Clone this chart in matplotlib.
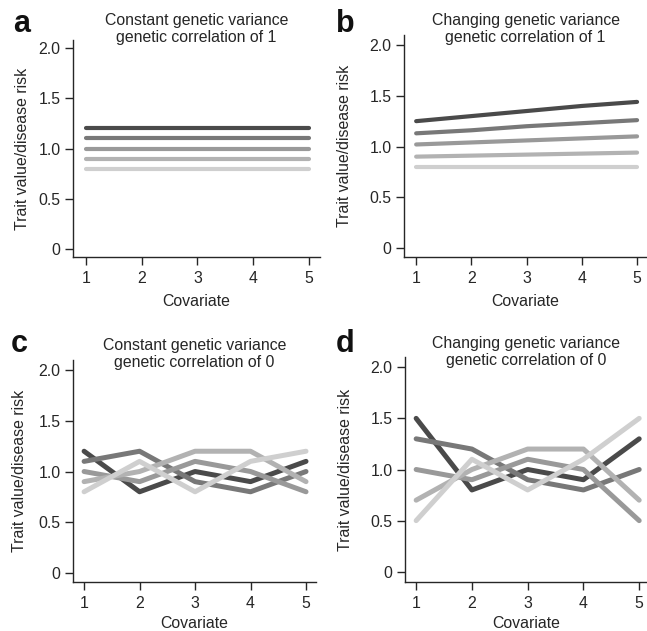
import matplotlib
matplotlib.use("Agg")
import matplotlib.pyplot as plt

plt.rcParams['font.family'] = ['Liberation Sans', 'DejaVu Sans']

# covariate values on the x axis
covariate = [1, 2, 3, 4, 5]

# panel a: constant variance, correlation 1
a_dark = [1.2, 1.2, 1.2, 1.2, 1.2]
a_middark = [1.1, 1.1, 1.1, 1.1, 1.1]
a_mid = [1.0, 1.0, 1.0, 1.0, 1.0]
a_light = [0.9, 0.9, 0.9, 0.9, 0.9]
a_lightest = [0.8, 0.8, 0.8, 0.8, 0.8]

# panel b: changing variance, correlation 1
b_dark = [1.25, 1.30, 1.35, 1.40, 1.44]
b_middark = [1.13, 1.16, 1.20, 1.23, 1.26]
b_mid = [1.02, 1.04, 1.06, 1.08, 1.10]
b_light = [0.90, 0.91, 0.92, 0.93, 0.94]
b_lightest = [0.80, 0.80, 0.80, 0.80, 0.80]

# panel c: constant variance, correlation 0
c_dark = [1.2, 0.8, 1.0, 0.9, 1.1]
c_middark = [1.1, 1.2, 0.9, 0.8, 1.0]
c_mid = [1.0, 0.9, 1.1, 1.0, 0.8]
c_light = [0.9, 1.0, 1.2, 1.2, 0.9]
c_lightest = [0.8, 1.1, 0.8, 1.1, 1.2]

# panel d: changing variance, correlation 0
d_dark = [1.5, 0.8, 1.0, 0.9, 1.3]
d_middark = [1.3, 1.2, 0.9, 0.8, 1.0]
d_mid = [1.0, 0.9, 1.1, 1.0, 0.5]
d_light = [0.7, 1.0, 1.2, 1.2, 0.7]
d_lightest = [0.5, 1.1, 0.8, 1.1, 1.5]

y_ticks = [0, 0.5, 1.0, 1.5, 2.0]
y_ticklabels = ["0", "0.5", "1.0", "1.5", "2.0"]

titles = ["Constant genetic variance\ngenetic correlation of 1",
          "Changing genetic variance\ngenetic correlation of 1",
          "Constant genetic variance\ngenetic correlation of 0",
          "Changing genetic variance\ngenetic correlation of 0"]
letters = ["a", "b", "c", "d"]

colors = ["#4a4a4a", "#787878", "#999999", "#b2b2b2", "#cfcfcf"]

panels = [
    [a_dark, a_middark, a_mid, a_light, a_lightest],
    [b_dark, b_middark, b_mid, b_light, b_lightest],
    [c_dark, c_middark, c_mid, c_light, c_lightest],
    [d_dark, d_middark, d_mid, d_light, d_lightest],
]

W, H = 647, 631
fig = plt.figure(figsize=(W / 100, H / 100), dpi=100)

# layout in pixels
boxes = [(73, 320, 40, 257), (404, 647, 35, 257),
         (73, 316, 360, 582), (405, 647, 357, 582)]   # left, right, top, bottom
title_top = [13, 13, 338, 336]                         # top of the title text
letter_pos = [(13, 32), (336, 32), (11, 352), (336, 352)]
ylabel_x = [-0.173, -0.214, -0.19, -0.215]
xlabel_pad = [6, 6, 4, 4]
xlims = [(0.767, 5.2), (0.78, 5.18), (0.8, 5.18), (0.8, 5.14)]
ylims = [(-0.08, 2.08), (-0.09, 2.1), (-0.09, 2.1), (-0.1, 2.1)]
lws = [3.0, 3.0, 3.6, 3.6]
fs = 11.4
ink = '#262626'

for i, series in enumerate(panels):
    l, r, t, b = boxes[i]
    ax = fig.add_axes([l / W, 1 - b / H, (r - l) / W, (b - t) / H])
    for vals, col in zip(series, colors):
        ax.plot(covariate, vals, color=col, lw=lws[i], solid_capstyle='round')
    ax.set_xlim(*xlims[i])
    ax.set_ylim(*ylims[i])
    ax.set_xticks(covariate)
    ax.set_yticks(y_ticks)
    ax.set_yticklabels(y_ticklabels)
    for side in ['top', 'right']:
        ax.spines[side].set_visible(False)
    for side in ['left', 'bottom']:
        ax.spines[side].set_linewidth(1.0)
        ax.spines[side].set_color(ink)
    ax.tick_params(labelsize=fs, length=6, width=1.0, color=ink,
                   labelcolor=ink)
    ax.tick_params(axis='x', pad=4)
    ax.tick_params(axis='y', pad=3)
    ax.set_xlabel("Covariate", fontsize=fs, color=ink, labelpad=xlabel_pad[i])
    ax.set_ylabel("Trait value/disease risk", fontsize=fs, color=ink)
    ax.yaxis.set_label_coords(ylabel_x[i], 0.5)
    fig.text((l + r) / 2 / W, 1 - title_top[i] / H, titles[i], fontsize=fs,
             color=ink, ha='center', va='top', linespacing=1.2,
             multialignment='center')
    lx, ly = letter_pos[i]
    fig.text(lx / W, 1 - ly / H, letters[i], fontsize=22, fontweight='bold',
             ha='left', va='baseline', color='#111111')

fig.savefig("out.png", dpi=100)
